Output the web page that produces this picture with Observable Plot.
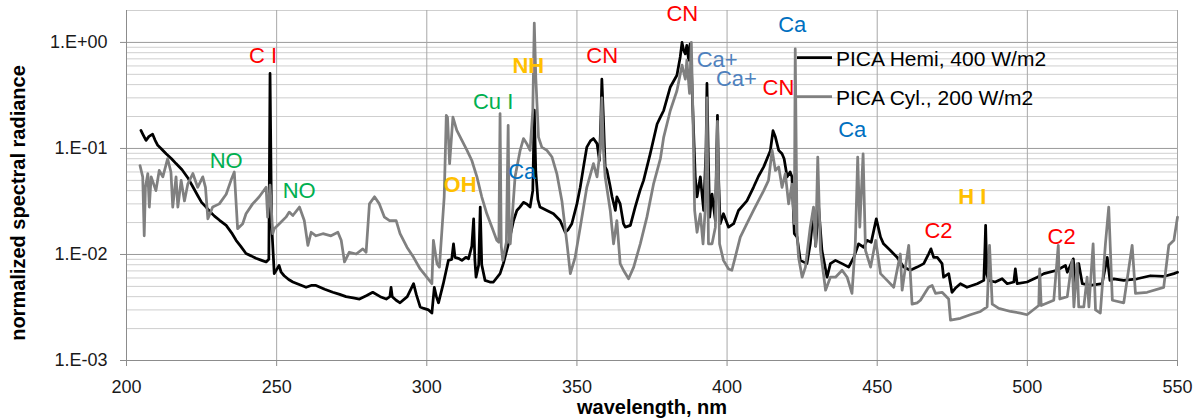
<!DOCTYPE html>
<html><head><meta charset="utf-8">
<script src="https://cdn.jsdelivr.net/npm/d3@7"></script>
<script src="https://cdn.jsdelivr.net/npm/@observablehq/plot@0.6"></script>
<style>
html,body{margin:0;padding:0;background:#fff}
#chart{width:1198px;height:419px}
</style>
</head><body><div id="chart"></div>
<script>
// ---- data: [wavelength nm, normalized spectral radiance] ----
const hemiSpectrum = [[204.8,0.148],[205.5,0.135],[206.5,0.119],[207.5,0.13],[208.7,0.136],[209.5,0.12],[210.4,0.107],[211.5,0.1],[213.2,0.089],[215,0.08],[216.5,0.072],[218.5,0.063],[220.4,0.053],[222,0.044],[223.7,0.036],[225,0.031],[226.5,0.028],[228,0.025],[229.3,0.023],[231,0.021],[233.2,0.0188],[235,0.016],[236.5,0.0136],[238,0.012],[239.8,0.0102],[241.5,0.0097],[243.1,0.0092],[245,0.0088],[246.5,0.0085],[247.4,0.009],[247.8,0.51],[248.3,0.02],[249.2,0.0066],[250,0.0072],[250.8,0.0079],[251.5,0.0068],[252.5,0.0063],[254,0.0058],[255.4,0.0055],[257.5,0.0052],[259.8,0.0049],[261.5,0.0051],[263.1,0.0051],[266,0.0047],[268.7,0.0044],[271,0.0042],[273.1,0.004],[275.5,0.0039],[277.6,0.0038],[280,0.0041],[282,0.0044],[284.5,0.004],[286.5,0.0038],[287.7,0.004],[288.1,0.0049],[288.5,0.004],[289.8,0.0037],[291.1,0.0035],[293.5,0.004],[295.6,0.0053],[296.5,0.0042],[297.8,0.0032],[299,0.0031],[300.6,0.003],[301.7,0.0028],[302.5,0.0049],[303.2,0.004],[303.9,0.0035],[305.5,0.0053],[307.2,0.0088],[308.3,0.009],[308.9,0.0126],[309.4,0.0094],[310.5,0.0092],[311.7,0.0088],[313,0.0094],[313.9,0.0091],[315,0.012],[315.6,0.0217],[316,0.009],[316.4,0.0061],[317.3,0.008],[317.8,0.028],[318.3,0.008],[319.4,0.0057],[321,0.0055],[322.2,0.0055],[324.4,0.0066],[325.5,0.0082],[327.2,0.0126],[328.9,0.0209],[330,0.026],[331,0.028],[332.2,0.031],[333.3,0.03],[334.4,0.028],[335.3,0.04],[335.8,0.23],[336.3,0.06],[337,0.033],[337.7,0.028],[340,0.026],[342.2,0.0242],[344.4,0.0209],[346.1,0.0162],[347,0.017],[348.3,0.0195],[350,0.03],[351.1,0.043],[352.3,0.07],[353.3,0.103],[354.5,0.118],[355.5,0.124],[356.7,0.111],[357.5,0.077],[358,0.2],[358.3,0.45],[358.8,0.2],[359.4,0.067],[360,0.062],[361,0.045],[361.7,0.035],[362.8,0.026],[363.3,0.035],[364.4,0.03],[365.5,0.0195],[366.1,0.0181],[367.8,0.0188],[369.4,0.028],[371,0.04],[372.2,0.05],[374.4,0.089],[376.7,0.17],[377.8,0.197],[378.9,0.228],[381.1,0.38],[383.3,0.49],[384.4,0.73],[385,1.0],[385.5,0.85],[386.1,0.78],[386.6,0.94],[387.2,0.68],[387.7,0.97],[388.2,0.5],[388.6,0.228],[389.4,0.054],[390,0.035],[391.1,0.054],[392.2,0.026],[393,0.1],[393.3,0.41],[393.7,0.1],[394.2,0.0225],[395,0.037],[396.1,0.0209],[396.5,0.08],[396.8,0.205],[397.2,0.05],[397.7,0.0195],[398.8,0.0242],[400.5,0.0181],[402.2,0.0195],[403.8,0.026],[406.6,0.032],[408.8,0.043],[410.5,0.055],[412.2,0.067],[414.4,0.095],[415.3,0.147],[416.1,0.128],[417.2,0.096],[418.3,0.089],[419,0.08],[420,0.054],[421,0.06],[421.6,0.054],[422.4,0.0157],[423.3,0.0146],[424.4,0.0088],[426.6,0.0082],[427.7,0.0126],[428.8,0.026],[429.5,0.012],[430.5,0.028],[431.6,0.0109],[433.3,0.0061],[434.4,0.0082],[436.1,0.0088],[438.3,0.0082],[440.5,0.0076],[442.2,0.0094],[443.8,0.0126],[445.5,0.0117],[446.6,0.0136],[448,0.013],[449.7,0.0217],[451.1,0.0146],[452.1,0.0126],[454.4,0.0109],[456.6,0.0094],[458.8,0.0076],[461,0.0071],[463.3,0.0076],[465.5,0.0082],[467.1,0.0101],[467.9,0.0113],[468.8,0.0094],[470,0.0094],[471.6,0.0082],[472.1,0.0061],[473.8,0.0066],[474.9,0.0044],[476,0.0048],[477.7,0.0053],[479.9,0.0049],[483.3,0.0053],[485.5,0.0057],[485.9,0.012],[486.1,0.0188],[486.5,0.0065],[487.1,0.0057],[489.3,0.0055],[491.6,0.0059],[493.3,0.0053],[495.5,0.0055],[496,0.0073],[496.6,0.0053],[499.9,0.0055],[503.3,0.0061],[505.5,0.0066],[509.9,0.0071],[512.7,0.0079],[513.3,0.0068],[515.3,0.0091],[516,0.0053],[517.1,0.0082],[518.3,0.0053],[521,0.0051],[524.9,0.0053],[526.6,0.0094],[527.5,0.0057],[528.8,0.0059],[532.1,0.0057],[536.6,0.0059],[541,0.0063],[545.4,0.0062],[548.8,0.0066],[550,0.0068]];

const cylSpectrum = [[204.5,0.069],[205.4,0.054],[205.9,0.015],[206.3,0.043],[207.1,0.058],[207.6,0.028],[208.2,0.054],[209.8,0.04],[210.9,0.062],[212.1,0.054],[213.7,0.08],[214.8,0.06],[215.4,0.028],[216.5,0.054],[217.1,0.028],[218.2,0.05],[219.3,0.032],[220.4,0.046],[222.1,0.058],[223.7,0.043],[225.4,0.054],[226.3,0.043],[227.1,0.0217],[228.7,0.028],[230.9,0.03],[233.2,0.037],[234.8,0.05],[235.9,0.06],[237,0.0175],[238.7,0.0195],[239.8,0.0242],[242,0.03],[244.2,0.035],[246.5,0.043],[247,0.0225],[247.8,0.045],[248.7,0.0157],[249.2,0.0175],[250.9,0.0195],[253.1,0.0225],[254.2,0.0251],[255.4,0.0233],[257.6,0.028],[259.2,0.0209],[260.4,0.0122],[261.5,0.0162],[263.1,0.015],[265.4,0.0157],[268.1,0.015],[270.4,0.0162],[271.5,0.0136],[272.6,0.0085],[274.2,0.0105],[276.5,0.0101],[278.7,0.0113],[279.8,0.0105],[280.9,0.03],[282.6,0.035],[284.2,0.03],[285.9,0.0225],[287.6,0.0209],[289.8,0.0209],[291.1,0.0157],[293.4,0.0117],[295.6,0.0094],[297.8,0.0073],[300,0.0061],[301.7,0.0053],[302.2,0.0136],[303.4,0.0082],[304.2,0.0076],[305,0.0162],[305.8,0.035],[306.5,0.205],[306.9,0.197],[307.6,0.072],[308.7,0.197],[310,0.148],[311.7,0.119],[313.4,0.096],[315,0.077],[316.7,0.054],[318.3,0.035],[320,0.0242],[321.7,0.0181],[323.3,0.0136],[324,0.013],[324.4,0.213],[324.8,0.012],[325.3,0.0088],[326.5,0.013],[327.1,0.165],[327.5,0.013],[327.8,0.0126],[329.4,0.054],[331.1,0.096],[332.2,0.124],[333.3,0.111],[334.4,0.096],[335.3,0.228],[335.8,1.52],[336.3,0.47],[337.2,0.128],[338.3,0.103],[340,0.096],[341.7,0.083],[343.3,0.058],[345,0.032],[346.7,0.0126],[347.8,0.0066],[349.4,0.0094],[351.1,0.0181],[353.3,0.043],[355.5,0.072],[356.7,0.054],[357.8,0.1],[358.3,0.3],[358.8,0.1],[359.4,0.054],[361.1,0.026],[362.2,0.0126],[363.3,0.0209],[364.4,0.0082],[365.5,0.0071],[367.2,0.0059],[368.9,0.0076],[371.1,0.0126],[373.3,0.0225],[375.5,0.046],[377.8,0.08],[378.9,0.128],[381.1,0.228],[383.3,0.35],[385,0.61],[386.1,0.45],[386.6,0.68],[387.5,0.33],[388.1,1.0],[388.6,0.228],[389.2,0.026],[390,0.0162],[391.1,0.0242],[392,0.0126],[392.7,0.026],[393.3,0.3],[393.8,0.0126],[395,0.0126],[396.1,0.0181],[396.8,0.18],[397.5,0.0126],[398.8,0.0088],[400.5,0.0073],[401.6,0.0071],[402.7,0.0094],[404.4,0.0146],[406.6,0.0195],[408.8,0.026],[412.2,0.04],[413.8,0.05],[415,0.096],[416.1,0.062],[417.2,0.067],[418.3,0.043],[419.4,0.058],[420.5,0.03],[421.6,0.046],[422.4,0.0195],[422.7,0.87],[423.3,0.0162],[423.8,0.0094],[425,0.0061],[426.1,0.0076],[427.7,0.0181],[428.8,0.028],[429.5,0.012],[430.2,0.083],[431.1,0.0109],[432.8,0.0046],[434.4,0.0061],[436.1,0.0061],[438.3,0.0071],[440,0.0061],[441.6,0.0043],[442.7,0.0126],[443.5,0.083],[444.2,0.0181],[445.3,0.089],[446.1,0.0109],[447.8,0.0076],[449.5,0.0136],[451.1,0.0066],[453.3,0.0057],[455.5,0.0049],[457.7,0.0101],[458.3,0.0046],[459.4,0.0076],[460.5,0.0122],[461.6,0.0034],[463.3,0.0035],[464.4,0.0037],[467.1,0.0049],[468.3,0.0051],[469.4,0.0043],[471.6,0.0044],[473.8,0.0038],[474.4,0.0024],[477.7,0.0025],[481,0.0027],[484.4,0.0029],[486.6,0.0032],[487.4,0.0122],[488.3,0.0034],[490.5,0.0031],[494.4,0.0029],[497.7,0.0028],[499.9,0.0027],[503.8,0.0033],[504.1,0.0073],[504.6,0.0033],[508.8,0.0037],[510.3,0.0122],[510.8,0.0038],[513.3,0.004],[514.9,0.0088],[515.5,0.0032],[516.6,0.0082],[517.1,0.0032],[518.8,0.0032],[519.9,0.0061],[520.5,0.0032],[521.9,0.0126],[522.7,0.003],[524.3,0.0028],[526,0.0126],[527.1,0.028],[528.3,0.0037],[532.1,0.0035],[534.9,0.0122],[536,0.0043],[539.9,0.0044],[545.4,0.0049],[547.1,0.0122],[548.8,0.0136],[550,0.0225]];

const seriesNames = ["PICA Hemi, 400 W/m2", "PICA Cyl., 200 W/m2"];
const xTitle = "wavelength, nm";
const yTitle = "normalized spectral radiance";

// species annotations
const labelText = ["C I","NO","NO","OH","Cu I","NH","Ca","CN","CN","Ca+","Ca+","CN","Ca","Ca","H I","C2","C2"];
const labelWavelength = [245.5,233.2,257.5,311.1,322.1,333.8,331.8,358.4,385.1,396.7,403.1,417.1,421.7,441.7,481.7,470.4,511.4];
const labelRadiance = [0.74,0.077,0.040,0.0457,0.277,0.594,0.0594,0.74,1.84,0.69,0.448,0.376,1.45,0.151,0.0345,0.0165,0.0145];

// ticks
const xTicks = [200,250,300,350,400,450,500,550];
const yTicks = [0.001,0.01,0.1,1];

// ---- styles ----
const speciesColor = {"C I":"#ff0000","CN":"#ff0000","C2":"#ff0000","NO":"#00b050","Cu I":"#00b050","OH":"#ffc000","NH":"#ffc000","H I":"#ffc000","Ca":"#0070c0","Ca+":"#4f81bd"};
const boldSpecies = new Set(["OH","NH","H I"]);
const FONT = "'Liberation Sans', Arial, sans-serif";

const labels = labelText.map((t,i) => ({t, x: labelWavelength[i], y: labelRadiance[i]}));
const yMinor = d3.range(-3,1).flatMap(k => d3.range(2,10).map(m => +(m*10**k).toPrecision(3))).filter(v => v <= 2);
const fmtY = v => { const e = Math.round(Math.log10(v)); return "1.E" + (e < 0 ? "-" : "+") + String(Math.abs(e)).padStart(2,"0"); };

const plot = Plot.plot({
  width: 1198, height: 419,
  marginLeft: 126, marginRight: 21, marginTop: 10, marginBottom: 59,
  style: {fontFamily: FONT, fontSize: "18px", background: "#fff", overflow: "visible"},
  x: {type: "linear", domain: [200,550]},
  y: {type: "log", domain: [0.001, 2]},
  marks: [
    Plot.ruleY(yMinor, {stroke: "#cfcfcf", strokeWidth: 1}),
    Plot.ruleY(yTicks.slice(1), {stroke: "#9a9a9a", strokeWidth: 1}),
    Plot.ruleX(xTicks.slice(1), {stroke: "#a8a8a8", strokeWidth: 1}),
    Plot.ruleX([200], {stroke: "#8c8c8c", strokeWidth: 1}),
    Plot.ruleY([0.001], {stroke: "#8c8c8c", strokeWidth: 1}),
    Plot.axisY({ticks: yTicks, tickFormat: fmtY, tickSize: 6, tickPadding: 13, label: null, stroke: "#8c8c8c", fill: "#1a1a1a"}),
    Plot.axisX({ticks: xTicks, tickFormat: d => String(d), tickSize: 6, tickPadding: 14, label: null, stroke: "#8c8c8c", fill: "#1a1a1a"}),
    Plot.line(hemiSpectrum, {x: d => d[0], y: d => d[1], stroke: "#000000", strokeWidth: 2.75, strokeLinejoin: "round"}),
    Plot.line(cylSpectrum, {x: d => d[0], y: d => d[1], stroke: "#808080", strokeWidth: 2.75, strokeLinejoin: "round"}),
    Plot.text(labels.filter(d => !boldSpecies.has(d.t)), {x: "x", y: "y", text: "t", fill: d => speciesColor[d.t], fontSize: 22}),
    Plot.text(labels.filter(d => boldSpecies.has(d.t)), {x: "x", y: "y", text: "t", fill: d => speciesColor[d.t], fontSize: 22, fontWeight: "bold"})
  ]
});

const svg = d3.select(plot);
// axis titles
svg.append("text").attr("x", 652).attr("y", 414).attr("text-anchor", "middle")
  .attr("font-family", FONT).attr("font-size", 20).attr("font-weight", "bold").attr("fill", "#000").text(xTitle);
svg.append("text").attr("transform", "translate(25,203) rotate(-90)").attr("text-anchor", "middle")
  .attr("font-family", FONT).attr("font-size", 20).attr("font-weight", "bold").attr("fill", "#000").text(yTitle);

// legend (pixel placement inside the frame, as in the source)
const lg = svg.append("g").attr("font-family", FONT).attr("font-size", 21).attr("text-anchor", "start");
const legendColors = ["#000000", "#808080"];
const legendY = [57.5, 96.5];
seriesNames.forEach((name, i) => {
  lg.append("line").attr("x1", 797).attr("x2", 832).attr("y1", legendY[i]).attr("y2", legendY[i])
    .attr("stroke", legendColors[i]).attr("stroke-width", 2.75);
  lg.append("text").attr("x", 836).attr("y", legendY[i] + 1).attr("dy", "0.35em").attr("fill", "#000").text(name);
});

document.getElementById("chart").appendChild(plot);
</script>
</body></html>
